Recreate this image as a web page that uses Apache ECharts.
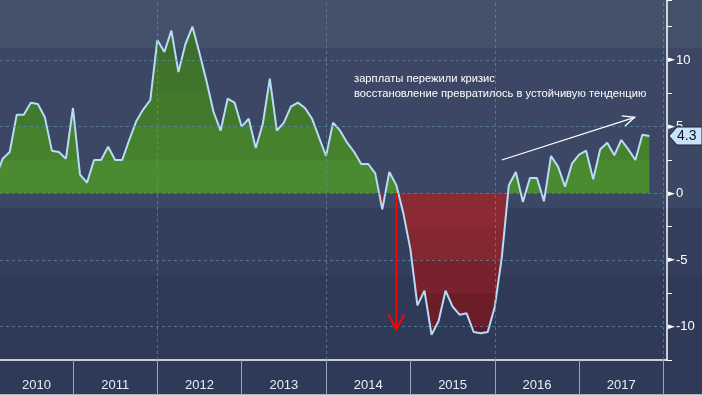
<!DOCTYPE html>
<html><head><meta charset="utf-8">
<script src="https://cdn.jsdelivr.net/npm/echarts@6/dist/echarts.min.js"></script>
<style>
html,body{margin:0;padding:0;width:702px;height:395px;overflow:hidden;
background:linear-gradient(to bottom,#44516b 0px,#44516b 48px,#3b4764 48px,#3b4764 193px,#3a4866 193px,#3a4866 208px,#333f5c 208px,#333f5c 275px,#2e3a57 275px,#2e3a57 395px);}
#c{width:702px;height:395px;}
</style></head><body><div id="c"></div>
<script>
// x positions are month indices counted from Jan 2010 = 0
const years = ['2010','2011','2012','2013','2014','2015','2016','2017'];
const firstMonth = 1; // Feb 2010
const wages = [
  1.2, 2.6, 3.1, 5.9, 5.9, 6.8, 6.7, 5.7, 3.2, 3.1, 2.6,            // 2010 Feb-Dec
  6.4, 1.4, 0.8, 2.5, 2.5, 3.5, 2.5, 2.5, 4.0, 5.4, 6.3, 7.0,       // 2011
  11.5, 10.6, 12.2, 9.1, 11.2, 12.5, 10.5, 8.4, 6.1, 4.7, 7.1, 6.8, // 2012
  5.0, 5.6, 3.4, 5.2, 8.6, 4.7, 5.3, 6.5, 6.8, 6.4, 5.6, 4.2,       // 2013
  2.8, 5.3, 4.7, 3.8, 3.1, 2.2, 2.2, 1.5, -1.2, 1.6, 0.6, -1.5,     // 2014
  -4.2, -8.4, -7.3, -10.6, -9.6, -7.3, -8.5, -9.1, -9.0, -10.4, -10.5, -10.4, // 2015
  -8.5, -4.8, 0.6, 1.6, -0.65, 1.15, 1.15, -0.6, 2.8, 2.0, 0.5, 2.25, // 2016
  2.9, 3.2, 1.05, 3.3, 3.8, 2.85, 4.0, 3.3, 2.5, 4.4, 4.3           // 2017
];
const yearStarts = [12, 24, 36, 48, 60, 72, 84, 96];
const yearLabelPos = [6.8, 18, 30, 42, 54, 66, 78, 90];
const gridYears = [24, 48, 72, 96];
const gridValues = [10, 5, 0, -5, -10];
const annotation = ['зарплаты пережили кризис', 'восстановление превратилось в устойчивую тенденцию'];
const lastLabel = '4.3';

const seriesData = wages.map((v, i) => [firstMonth + i, v]);
const gridLineStyle = {color: 'rgba(100,140,170,0.7)', type: [3, 3], width: 1};

const chart = echarts.init(document.getElementById('c'), null, {renderer: 'canvas'});
chart.setOption({
  backgroundColor: 'transparent',
  animation: false,
  grid: {left: 0, right: 35, top: 0, bottom: 35},
  xAxis: {
    type: 'value', min: 1.62, max: 96.5,
    axisLine: {show: true, onZero: false, lineStyle: {color: '#ffffff', width: 1.5}},
    axisTick: {show: true, customValues: yearStarts, length: 35, lineStyle: {color: '#9aa6b6', width: 1}},
    axisLabel: {customValues: yearLabelPos, formatter: v => years[Math.floor(v / 12)] || '',
      color: '#e8eef5', fontSize: 13, margin: 19, fontFamily: 'Liberation Sans'},
    splitLine: {show: false}
  },
  yAxis: {
    type: 'value', position: 'right', min: -12.5, max: 14.5, interval: 2.5,
    axisLine: {show: true, lineStyle: {color: '#ffffff', width: 1.5}},
    axisTick: {show: true, length: 5, lineStyle: {color: '#ffffff'}},
    splitLine: {show: false},
    axisLabel: {
      margin: 1,
      formatter: v => (Math.abs(v % 5) < 1e-9) ? '{t|►}{v|' + v + '}' : '',
      rich: {
        t: {fontSize: 9, color: '#ffffff', fontFamily: 'DejaVu Sans', padding: [0, 1, 0, 0]},
        v: {fontSize: 13, color: '#ffffff', fontFamily: 'Liberation Sans'}
      }
    }
  },
  visualMap: {
    type: 'piecewise', show: false, seriesIndex: 0, dimension: 1,
    pieces: [
      {gt: 10, color: '#3e6e2c'},
      {gt: 7.5, lte: 10, color: '#40742c'},
      {gt: 5, lte: 7.5, color: '#427a2d'},
      {gt: 2.5, lte: 5, color: '#46822e'},
      {gt: 0, lte: 2.5, color: '#4a8a30'},
      {gt: -2.5, lte: 0, color: '#8b2a35'},
      {gt: -5, lte: -2.5, color: '#832731'},
      {gt: -7.5, lte: -5, color: '#79222d'},
      {gt: -10, lte: -7.5, color: '#6c1d28'},
      {lte: -10, color: '#631923'}
    ]
  },
  series: [
    {
      type: 'line', data: seriesData, symbol: 'none', silent: true,
      lineStyle: {width: 0}, areaStyle: {opacity: 1}, z: 2,
      markLine: {
        silent: true, symbol: 'none', label: {show: false},
        lineStyle: gridLineStyle,
        data: gridValues.map(v => ({yAxis: v})).concat(gridYears.map(x => ({xAxis: x})))
      }
    },
    {
      type: 'line', data: seriesData, symbol: 'none', silent: true,
      lineStyle: {color: '#b8dcf6', width: 2}, z: 3
    }
  ]
});

// annotations positioned through the chart's scales
const p = (x, y) => chart.convertToPixel({gridIndex: 0}, [x, y]);
const rTop = p(58, 0), rTip = p(58, -10.2);
const wS = p(73, 2.5), wE = p(91.9, 5.7);
const ang = Math.atan2(wE[1] - wS[1], wE[0] - wS[0]);
const hl = 13, ha = 0.42;
const lab = p(96.5, 4.3);
chart.setOption({
  graphic: [
    {type: 'line', z: 50, shape: {x1: rTop[0], y1: rTop[1], x2: rTip[0], y2: rTip[1]}, style: {stroke: '#ff0000', lineWidth: 2}},
    {type: 'polyline', z: 50, shape: {points: [[rTip[0] - 8, rTip[1] - 15], [rTip[0], rTip[1]], [rTip[0] + 8, rTip[1] - 15]]}, style: {stroke: '#ff0000', lineWidth: 2, fill: null}},
    {type: 'line', z: 50, shape: {x1: wS[0], y1: wS[1], x2: wE[0], y2: wE[1]}, style: {stroke: '#ffffff', lineWidth: 1.3}},
    {type: 'polyline', z: 50, shape: {points: [
      [wE[0] - hl * Math.cos(ang - ha), wE[1] - hl * Math.sin(ang - ha)],
      [wE[0], wE[1]],
      [wE[0] - hl * Math.cos(ang + ha), wE[1] - hl * Math.sin(ang + ha)]]}, style: {stroke: '#ffffff', lineWidth: 1.3, fill: null}},
    {type: 'text', z: 50, left: 354, top: 71, style: {text: annotation.join('\n'), fill: '#ffffff', font: '11.2px "Liberation Sans"', lineHeight: 15}},
    {type: 'polygon', z: 60, shape: {points: [[lab[0] + 2, lab[1]], [lab[0] + 10, lab[1] - 9], [702, lab[1] - 9], [702, lab[1] + 9], [lab[0] + 10, lab[1] + 9]]}, style: {fill: '#c8e4fa', stroke: '#1c2430', lineWidth: 1}},
    {type: 'text', z: 61, x: lab[0] + 10, y: lab[1], style: {text: lastLabel, fill: '#111111', font: '14px "Liberation Sans"', verticalAlign: 'middle', align: 'left'}},
    {type: 'line', z: 50, shape: {x1: 0, y1: 394.5, x2: 702, y2: 394.5}, style: {stroke: '#b0b6c0', lineWidth: 1}}
  ]
});
</script>
</body></html>
